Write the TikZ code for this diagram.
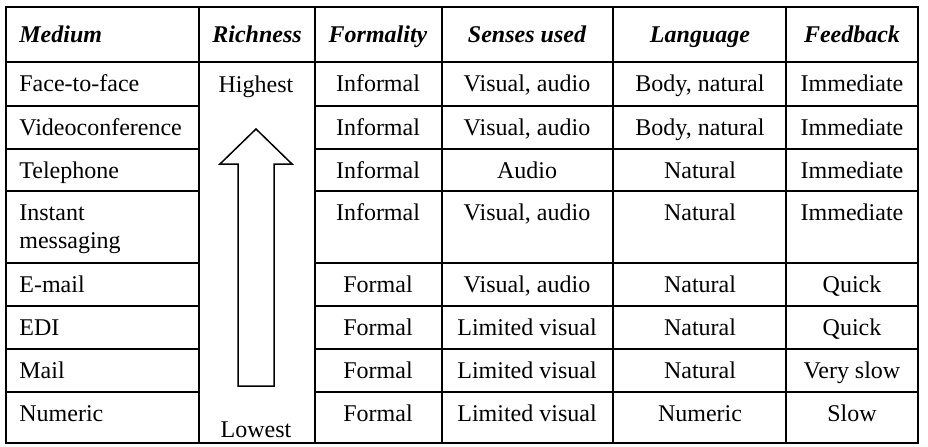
\documentclass[tikz,border=0pt]{standalone}
\usepackage{fontspec}
\setmainfont{Liberation Serif}
\begin{document}
\begin{tikzpicture}[x=0.5pt,y=-0.5pt,
  txt/.style={inner sep=0pt,font=\fontsize{12}{14}\selectfont},
  hd/.style={txt,anchor=base,font=\fontsize{12}{14}\selectfont\bfseries\itshape},
  hdl/.style={hd,anchor=base west},
  cell/.style={txt,anchor=base},
  lcell/.style={txt,anchor=base west},
  rule/.style={line width=1.15pt},
  richarrow/.style={line width=0.75pt,line join=miter}]
\useasboundingbox (0,0) rectangle (928,446);

% table frame and column rules
\draw[rule] (6,7) rectangle (918,443);
\foreach \x in {199,315,442,613,786}
  \draw[rule] (\x,7) -- (\x,443);
% header rule across the whole width
\draw[rule] (6,62) -- (918,62);
% row rules, interrupted by the merged Richness column
\foreach \y in {106,149,191,263,306,349,392}{
  \draw[rule] (6,\y) -- (199,\y);
  \draw[rule] (315,\y) -- (918,\y);
}

% header
\node[hdl] (hMed) at (19,42) {Medium};
\node[hd] (hRich) at (257,42) {Richness};
\node[hd] (hForm) at (378,42) {Formality};
\node[hd] (hSens) at (527,42) {Senses used};
\node[hd] (hLang) at (700,42) {Language};
\node[hd] (hFeed) at (852,42) {Feedback};

% body rows: baseline / medium / formality / senses / language / feedback
\foreach \yb/\med/\frm/\sen/\lng/\fb [count=\i] in {
  91/Face-to-face/Informal/{Visual, audio}/{Body, natural}/Immediate,
  135/Videoconference/Informal/{Visual, audio}/{Body, natural}/Immediate,
  178/Telephone/Informal/Audio/Natural/Immediate,
  220/Instant/Informal/{Visual, audio}/Natural/Immediate,
  292/E-mail/Formal/{Visual, audio}/Natural/Quick,
  335/EDI/Formal/Limited visual/Natural/Quick,
  378/Mail/Formal/Limited visual/Natural/Very slow,
  421/Numeric/Formal/Limited visual/Numeric/Slow}{
  \node[lcell] (med\i) at (19,\yb) {\med};
  \node[cell] (frm\i) at (378,\yb) {\frm};
  \node[cell] (sen\i) at (527,\yb) {\sen};
  \node[cell] (lng\i) at (700,\yb) {\lng};
  \node[cell] (fb\i) at (852,\yb) {\fb};
}
\node[lcell] (med4b) at (19,248) {messaging};

% richness scale
\node[cell] (high) at (256,92) {Highest};
\node[cell] (low) at (256,437) {Lowest};
\draw[richarrow] (238,386) -- (238,164) -- (220,164) -- (256,129)
  -- (292,164) -- (274,164) -- (274,386) -- cycle;
\end{tikzpicture}
\end{document}
